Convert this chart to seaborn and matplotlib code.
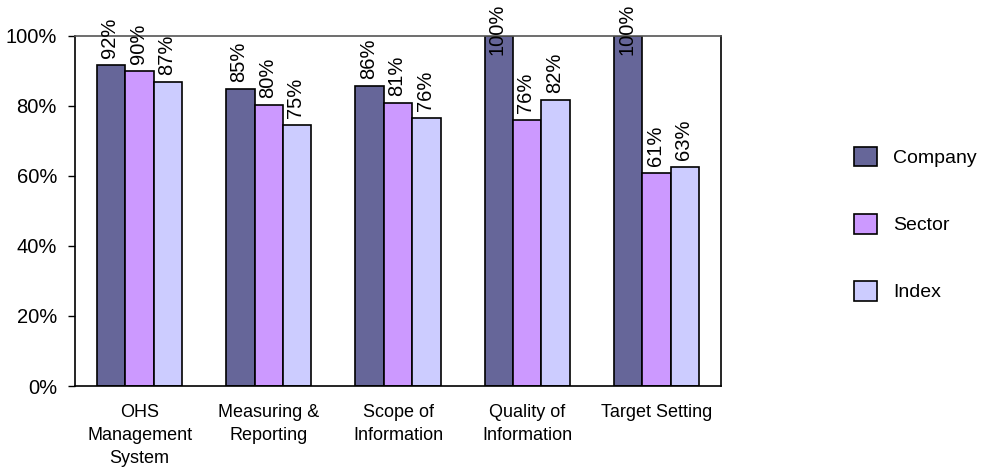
import matplotlib
matplotlib.use("Agg")
import matplotlib.pyplot as plt
import seaborn as sns
import pandas as pd
from matplotlib.patches import Patch

categories = ["OHS\nManagement\nSystem", "Measuring &\nReporting", "Scope of\nInformation",
              "Quality of\nInformation", "Target Setting"]
series = ["Company", "Sector", "Index"]
company = [91.6, 84.6, 85.5, 100, 100]
sector = [89.8, 80.2, 80.8, 75.9, 60.8]
index_vals = [86.7, 74.5, 76.4, 81.7, 62.5]
labels_company = ["92%", "85%", "86%", "100%", "100%"]
labels_sector = ["90%", "80%", "81%", "76%", "61%"]
labels_index = ["87%", "75%", "76%", "82%", "63%"]
colors = ["#666699", "#CC99FF", "#CCCCFF"]

rows = []
for s, vals in zip(series, [company, sector, index_vals]):
    for c, v in zip(categories, vals):
        rows.append({"category": c, "series": s, "value": v})
df = pd.DataFrame(rows)

sns.set_theme(style="white")
plt.rcParams["font.family"] = ["Liberation Sans", "DejaVu Sans"]
plt.rcParams["text.color"] = "black"
plt.rcParams["xtick.color"] = "black"
plt.rcParams["ytick.color"] = "black"
plt.rcParams["axes.labelcolor"] = "black"

fig = plt.figure(figsize=(9.81, 4.70), dpi=100)
ax = fig.add_axes([75 / 981, 1 - 386 / 470, (721 - 75) / 981, (386 - 35.5) / 470])

sns.barplot(data=df, x="category", y="value", hue="series", palette=colors,
            order=categories, hue_order=series, width=0.66, gap=0,
            edgecolor="black", linewidth=1.2, saturation=1, ax=ax, legend=False)

ax.set_ylim(0, 100)
ax.set_xlim(-0.5, 4.5)
ax.set_yticks([0, 20, 40, 60, 80, 100])
ax.set_yticklabels([f"{t}%" for t in [0, 20, 40, 60, 80, 100]])
ax.set_xlabel("")
ax.set_ylabel("")
ax.tick_params(axis="y", left=True, length=5, width=1, color="black", pad=8, labelsize=14.5,
               labelcolor="black")
ax.tick_params(axis="x", bottom=False, length=0, pad=13, labelsize=13, labelcolor="black")
for lbl in ax.get_xticklabels():
    lbl.set_linespacing(1.45)

for side in ["left", "bottom", "right"]:
    ax.spines[side].set_color("black")
    ax.spines[side].set_linewidth(1.2)
ax.spines["top"].set_color("#555555")
ax.spines["top"].set_linewidth(1.2)

all_labels = [labels_company, labels_sector, labels_index]
for container, vals, labs in zip(ax.containers, [company, sector, index_vals], all_labels):
    for bar, v, lab in zip(container, vals, labs):
        xc = bar.get_x() + bar.get_width() / 2 - 0.01
        if v > 95:
            ax.text(xc, 109.0, lab, rotation=90, ha="center", va="top",
                    fontsize=14.5, color="black", clip_on=False)
        else:
            ax.text(xc, v + 2.0, lab, rotation=90, ha="center", va="bottom",
                    fontsize=14.5, color="black", clip_on=False)

handles = [Patch(facecolor=c, edgecolor="black", linewidth=1.2) for c in colors]
fig.legend(handles, series, loc="center left", bbox_to_anchor=(854 / 981, 1 - 224 / 470),
           frameon=False, fontsize=14, handlelength=1.2, handleheight=1.2,
           labelspacing=2.4, handletextpad=0.8, borderpad=0, borderaxespad=0,
           labelcolor="black")

fig.savefig("out.png", dpi=100)
